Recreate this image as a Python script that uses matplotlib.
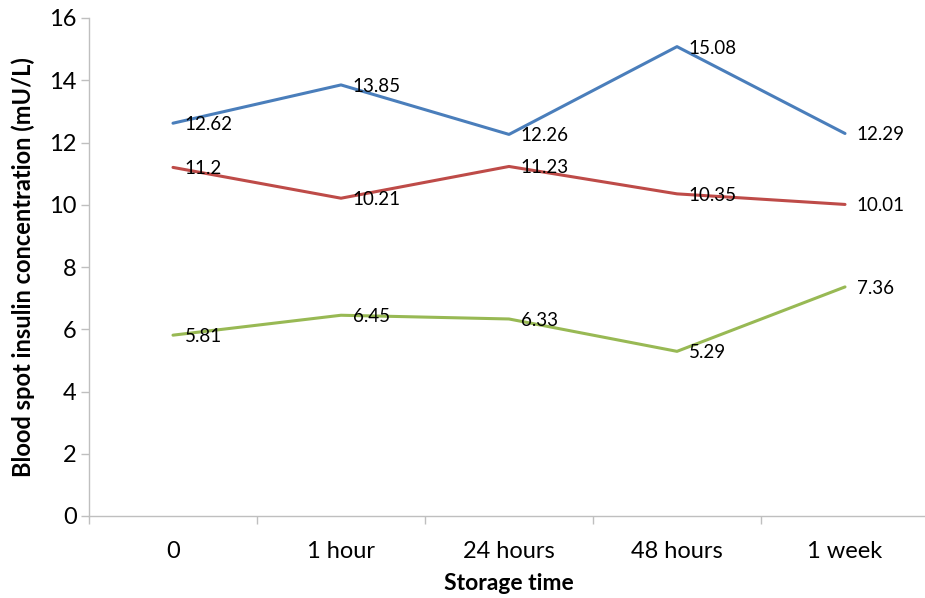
import matplotlib
matplotlib.use("Agg")
import matplotlib.pyplot as plt

categories = ["0", "1 hour", "24 hours", "48 hours", "1 week"]
series_blue = [12.62, 13.85, 12.26, 15.08, 12.29]
series_red = [11.2, 10.21, 11.23, 10.35, 10.01]
series_green = [5.81, 6.45, 6.33, 5.29, 7.36]
y_ticks = [0, 2, 4, 6, 8, 10, 12, 14, 16]

plt.rcParams['font.family'] = ['Lato', 'DejaVu Sans']

W, H = 925, 598
fig = plt.figure(figsize=(W / 100, H / 100), dpi=100)
left, right, top, bottom = 89, 929, 18, 516
ax = fig.add_axes([left / W, (H - bottom) / H, (right - left) / W, (bottom - top) / H])

x = list(range(len(categories)))
colors = ["#4A7EBB", "#BE4B48", "#98B954"]
for vals, c in zip([series_blue, series_red, series_green], colors):
    ax.plot(x, vals, color=c, lw=2.2, solid_capstyle='round')
    for xi, v in zip(x, vals):
        ax.annotate(f"{v:g}", (xi, v), xytext=(8.5, -1), textcoords='offset points',
                    ha='left', va='center', fontsize=13.5, color='black')

ax.set_xlim(-0.5, len(categories) - 0.5)
ax.set_ylim(0, 16)
ax.set_yticks(y_ticks)
ax.set_xticks(x)
ax.set_xticklabels(categories)
ax.set_xticks([i - 0.5 for i in range(len(categories) + 1)], minor=True)
ax.tick_params(axis='x', which='major', length=0, pad=18, labelsize=17)
ax.tick_params(axis='x', which='minor', length=6, color='#BFBFBF', width=1)
ax.tick_params(axis='y', length=6, color='#BFBFBF', width=1, labelsize=17, pad=3)

for s in ['top', 'right']:
    ax.spines[s].set_visible(False)
for s in ['left', 'bottom']:
    ax.spines[s].set_color('#BFBFBF')
    ax.spines[s].set_linewidth(1)

ax.set_xlabel("Storage time", fontsize=16.5, fontweight='bold', labelpad=8)
ax.set_ylabel("Blood spot insulin concentration (mU/L)", fontsize=17, fontweight='bold', labelpad=10)

fig.savefig("out.png", dpi=100)
